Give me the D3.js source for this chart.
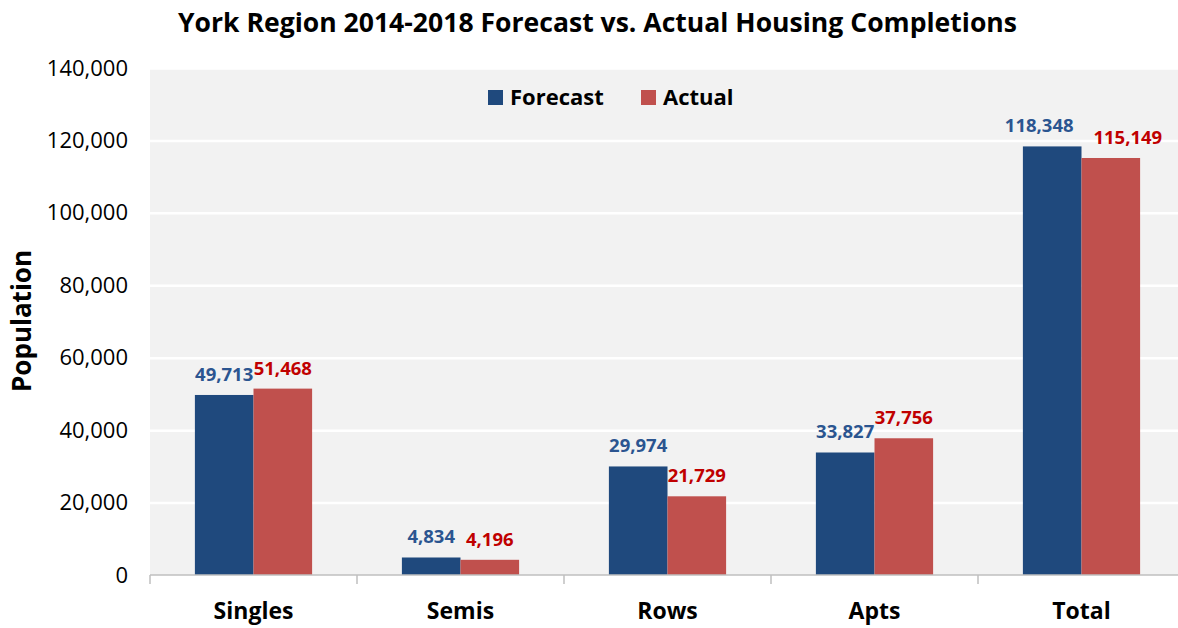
<!DOCTYPE html>
<html>
<head>
<meta charset="utf-8">
<script src="https://cdn.jsdelivr.net/npm/d3@7"></script>
<style>
  body { margin: 0; background: #fff; }
  text { font-family: "Open Sans", sans-serif; }
</style>
</head>
<body>
<div id="chart"></div>
<script>
// data
const categories = ["Singles", "Semis", "Rows", "Apts", "Total"];
const seriesNames = ["Forecast", "Actual"];
const forecastValues = [49713, 4834, 29974, 33827, 118348];
const actualValues = [51468, 4196, 21729, 37756, 115149];
const yTicks = [0, 20000, 40000, 60000, 80000, 100000, 120000, 140000];

const barColors = { Forecast: "#1f497d", Actual: "#c0504d" };
const labelColors = { Forecast: "#2b5590", Actual: "#c00000" };

const W = 1178, H = 628;
const margin = { top: 68, right: -7, bottom: 53, left: 150 };
const width = W - margin.left - margin.right;
const height = H - margin.top - margin.bottom;

const svg = d3.select("#chart").append("svg")
    .attr("width", W)
    .attr("height", H);

// title
svg.append("text")
    .attr("x", 178)
    .attr("y", 32)
    .attr("textLength", 839)
    .attr("lengthAdjust", "spacingAndGlyphs")
    .style("font-size", "27px")
    .style("font-weight", "bold")
    .style("fill", "#000")
    .text("York Region 2014-2018 Forecast vs. Actual Housing Completions");

const g = svg.append("g")
    .attr("transform", `translate(${margin.left}, ${margin.top})`);

// plot background
g.append("rect")
    .attr("width", width)
    .attr("height", height)
    .style("fill", "#f2f2f2");

// scales
const x0 = d3.scaleBand()
    .domain(categories)
    .range([0, width])
    .padding(0);

const x1 = d3.scaleBand()
    .domain(seriesNames)
    .range([0, x0.bandwidth()])
    .paddingInner(0)
    .paddingOuter(0.766);

const y = d3.scaleLinear()
    .domain([0, 140000])
    .range([height, 0]);

// gridlines
g.append("g")
    .attr("class", "grid")
    .call(d3.axisLeft(y).tickValues(yTicks.slice(1)).tickSize(-width).tickFormat(""))
    .call(s => s.select(".domain").remove())
    .selectAll("line")
    .style("stroke", "#fff")
    .style("stroke-width", 2.5);

// y axis labels
g.append("g")
    .call(d3.axisLeft(y).tickValues(yTicks).tickSize(0).tickPadding(22).tickFormat(d3.format(",")))
    .call(s => s.select(".domain").remove())
    .selectAll("text")
    .style("font-family", "'Open Sans', sans-serif")
    .style("font-size", "22px")
    .style("fill", "#000");

// y axis title
svg.append("text")
    .attr("transform", "rotate(-90)")
    .attr("x", -321)
    .attr("y", 31)
    .attr("text-anchor", "middle")
    .style("font-size", "26px")
    .style("font-weight", "bold")
    .style("fill", "#000")
    .text("Population");

// bars
const rows = categories.map((c, i) => ({
    category: c,
    values: [
        { series: "Forecast", value: forecastValues[i] },
        { series: "Actual", value: actualValues[i] }
    ]
}));

const groups = g.selectAll(".group")
    .data(rows)
    .enter().append("g")
    .attr("class", "group")
    .attr("transform", d => `translate(${x0(d.category)}, 0)`);

groups.selectAll("rect")
    .data(d => d.values)
    .enter().append("rect")
    .attr("x", d => x1(d.series))
    .attr("y", d => y(d.value))
    .attr("width", x1.bandwidth())
    .attr("height", d => height - y(d.value))
    .style("fill", d => barColors[d.series]);

// value labels (Total labels were nudged apart in the original)
const lastCat = categories[categories.length - 1];
groups.selectAll(".val")
    .data(d => d.values.map(v => Object.assign({ category: d.category }, v)))
    .enter().append("text")
    .attr("class", "val")
    .attr("x", d => {
        let cx = x1(d.series) + x1.bandwidth() / 2;
        if (d.category === lastCat) cx += d.series === "Forecast" ? -13 : 17;
        return cx;
    })
    .attr("y", d => y(d.value) - 14)
    .attr("text-anchor", "middle")
    .style("font-size", "18.5px")
    .style("font-weight", "bold")
    .style("fill", d => labelColors[d.series])
    .text(d => d3.format(",")(d.value));

// x axis
const xAxisG = g.append("g")
    .attr("transform", `translate(0, ${height})`);

xAxisG.append("line")
    .attr("x1", 0)
    .attr("x2", width)
    .style("stroke", "#bfbfbf")
    .style("stroke-width", 1.5);

xAxisG.selectAll(".bound")
    .data(categories.map(c => x0(c)).concat([width]))
    .enter().append("line")
    .attr("class", "bound")
    .attr("x1", d => d)
    .attr("x2", d => d)
    .attr("y1", 0)
    .attr("y2", 9)
    .style("stroke", "#bfbfbf")
    .style("stroke-width", 1.5);

xAxisG.selectAll(".cat")
    .data(categories)
    .enter().append("text")
    .attr("class", "cat")
    .attr("x", d => x0(d) + x0.bandwidth() / 2)
    .attr("y", 44)
    .attr("text-anchor", "middle")
    .style("font-size", "23px")
    .style("font-weight", "bold")
    .style("fill", "#000")
    .text(d => d);

// legend
const legend = svg.append("g")
    .attr("transform", "translate(488, 90)");

const legendX = { Forecast: 0, Actual: 153 };
const items = legend.selectAll(".item")
    .data(seriesNames)
    .enter().append("g")
    .attr("class", "item")
    .attr("transform", d => `translate(${legendX[d]}, 0)`);

items.append("rect")
    .attr("width", 15)
    .attr("height", 15)
    .style("fill", d => barColors[d]);

items.append("text")
    .attr("x", 22)
    .attr("y", 15)
    .style("font-size", "22px")
    .style("font-weight", "bold")
    .style("fill", "#000")
    .text(d => d);
</script>
</body>
</html>
